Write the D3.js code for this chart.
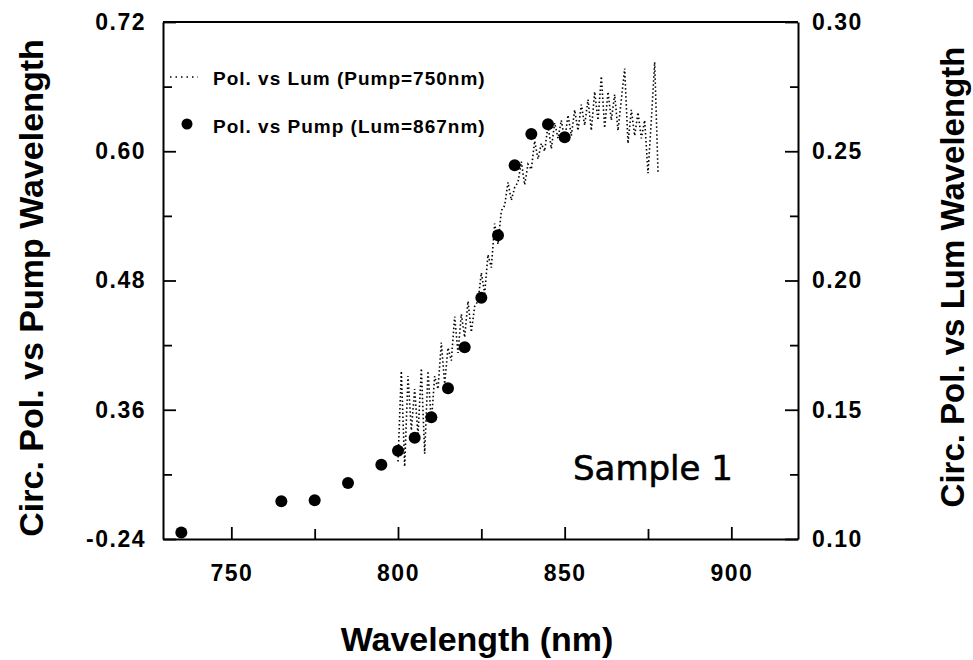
<!DOCTYPE html>
<html>
<head>
<meta charset="utf-8">
<script src="https://cdn.jsdelivr.net/npm/d3@7"></script>
<style>
  body { margin: 0; background: #fff; }
  svg { display: block; }
</style>
</head>
<body>
<div id="chart"></div>
<script>
const WIDTH = 973;
const HEIGHT = 660;
const LEFT = 163;
const RIGHT = 798;
const TOP = 22;
const BOTTOM = 539;

const FONT = "'Liberation Sans', Arial, sans-serif";

// pump scan: circ. pol. vs pump wavelength (lum = 867nm), left axis
const pumpWavelength = [735, 765, 775, 785, 795, 800, 805, 810, 815, 820, 825, 830, 835, 840, 845, 850];
const pumpPolarization = [0.246, 0.275, 0.276, 0.292, 0.309, 0.322, 0.334, 0.353, 0.380, 0.418, 0.464, 0.522, 0.587, 0.616, 0.625, 0.613];

// luminescence scan: circ. pol. vs lum wavelength (pump = 750nm), right axis
const lumWavelength = [
  800, 801, 802, 803, 804, 805, 806, 807, 808, 809,
  810, 811, 812, 813, 814, 815, 816, 817, 818, 819,
  820, 821, 822, 823, 824, 825, 826, 827, 828, 829,
  830, 831, 832, 833, 834, 835, 836, 837, 838, 839,
  840, 841, 842, 843, 844, 845, 846, 847, 848, 849,
  850, 851, 852, 853, 854, 855, 856, 857, 858, 859,
  860, 861, 862, 863, 864, 865, 866, 867, 868, 869,
  870, 871, 872, 873, 874, 875, 876, 877, 878
];
const lumPolarization = [
  0.130, 0.165, 0.128, 0.163, 0.142, 0.158, 0.140, 0.166, 0.133, 0.165,
  0.145, 0.163, 0.158, 0.176, 0.160, 0.174, 0.169, 0.186, 0.172, 0.187,
  0.178, 0.192, 0.180, 0.190, 0.192, 0.203, 0.195, 0.210, 0.205, 0.222,
  0.214, 0.227, 0.229, 0.238, 0.231, 0.236, 0.238, 0.246, 0.237, 0.245,
  0.243, 0.254, 0.247, 0.253, 0.250, 0.260, 0.251, 0.261, 0.255, 0.262,
  0.254, 0.264, 0.256, 0.266, 0.258, 0.268, 0.260, 0.270, 0.258, 0.273,
  0.262, 0.279, 0.259, 0.273, 0.262, 0.272, 0.258, 0.270, 0.282, 0.253,
  0.266, 0.256, 0.265, 0.255, 0.262, 0.2415, 0.262, 0.2845, 0.242
];

const xTicks = [750, 800, 850, 900];
const xMinorTicks = [775, 825, 875];
const leftTicks = [0.24, 0.36, 0.48, 0.60, 0.72];
const leftMinorTicks = [0.30, 0.42, 0.54, 0.66];
const rightTicks = [0.10, 0.15, 0.20, 0.25, 0.30];
const rightMinorTicks = [0.125, 0.175, 0.225, 0.275];

const legendLabels = ["Pol. vs Lum (Pump=750nm)", "Pol. vs Pump (Lum=867nm)"];

const svg = d3.select("#chart")
  .append("svg")
  .attr("width", WIDTH)
  .attr("height", HEIGHT);

const x = d3.scaleLinear().domain([729.5, 920]).range([LEFT, RIGHT]);
const yLeft = d3.scaleLinear().domain([0.24, 0.72]).range([BOTTOM, TOP]);
const yRight = d3.scaleLinear().domain([0.10, 0.30]).range([BOTTOM, TOP]);

function styleAxis(g) {
  g.select(".domain").attr("stroke", "#000").attr("stroke-width", 2);
  g.selectAll(".tick line").attr("stroke", "#000").attr("stroke-width", 1.8);
  g.selectAll(".tick text")
    .attr("fill", "#000")
    .style("font-family", FONT)
    .style("font-weight", "bold")
    .style("font-size", "23px")
    .style("letter-spacing", "1.5px");
}

// bottom axis
svg.append("g")
  .attr("transform", `translate(0,${BOTTOM})`)
  .call(d3.axisBottom(x).tickValues(xTicks).tickFormat(d3.format("d"))
    .tickSizeInner(-12).tickSizeOuter(0).tickPadding(26))
  .call(styleAxis);
svg.append("g")
  .attr("transform", `translate(0,${BOTTOM})`)
  .call(d3.axisBottom(x).tickValues(xMinorTicks).tickFormat("").tickSizeInner(-10).tickSizeOuter(0))
  .call(g => g.select(".domain").remove())
  .call(styleAxis);

// left axis
svg.append("g")
  .attr("transform", `translate(${LEFT},0)`)
  .call(d3.axisLeft(yLeft).tickValues(leftTicks)
    .tickFormat(d => d === 0.24 ? "-0.24" : d3.format(".2f")(d))
    .tickSizeInner(-13).tickSizeOuter(0).tickPadding(17))
  .call(styleAxis);
svg.append("g")
  .attr("transform", `translate(${LEFT},0)`)
  .call(d3.axisLeft(yLeft).tickValues(leftMinorTicks).tickFormat("").tickSizeInner(-9).tickSizeOuter(0))
  .call(g => g.select(".domain").remove())
  .call(styleAxis);

// right axis
svg.append("g")
  .attr("transform", `translate(${RIGHT},0)`)
  .call(d3.axisRight(yRight).tickValues(rightTicks).tickFormat(d3.format(".2f"))
    .tickSizeInner(-13).tickSizeOuter(0).tickPadding(14))
  .call(styleAxis);
svg.append("g")
  .attr("transform", `translate(${RIGHT},0)`)
  .call(d3.axisRight(yRight).tickValues(rightMinorTicks).tickFormat("").tickSizeInner(-8).tickSizeOuter(0))
  .call(g => g.select(".domain").remove())
  .call(styleAxis);

// top frame line
svg.append("line")
  .attr("x1", LEFT).attr("x2", RIGHT)
  .attr("y1", TOP).attr("y2", TOP)
  .attr("stroke", "#000")
  .attr("stroke-width", 2);

// luminescence curve, dotted
const lumLine = d3.line()
  .x((d, i) => x(lumWavelength[i]))
  .y(d => yRight(d));

svg.append("path")
  .datum(lumPolarization)
  .attr("d", lumLine)
  .attr("fill", "none")
  .attr("stroke", "#000")
  .attr("stroke-width", 1.6)
  .attr("stroke-dasharray", "1.5,2.5");

// pump points
svg.selectAll("circle.pump")
  .data(pumpPolarization)
  .enter()
  .append("circle")
  .attr("class", "pump")
  .attr("cx", (d, i) => x(pumpWavelength[i]))
  .attr("cy", d => yLeft(d))
  .attr("r", 6)
  .attr("fill", "#000");

// legend
svg.append("line")
  .attr("x1", 170).attr("x2", 198)
  .attr("y1", 77).attr("y2", 77)
  .attr("stroke", "#000")
  .attr("stroke-width", 1.4)
  .attr("stroke-dasharray", "1.5,4");
svg.append("circle")
  .attr("cx", 187).attr("cy", 124)
  .attr("r", 5.5)
  .attr("fill", "#000");
svg.selectAll("text.legend")
  .data(legendLabels)
  .enter()
  .append("text")
  .attr("class", "legend")
  .attr("x", 213)
  .attr("y", (d, i) => 85 + i * 48)
  .style("font-family", FONT)
  .style("font-weight", "bold")
  .style("font-size", "19px")
  .style("letter-spacing", "1px")
  .text(d => d);

// sample label
svg.append("text")
  .attr("x", 573)
  .attr("y", 480)
  .style("font-family", "'DejaVu Sans', sans-serif")
  .style("font-size", "34px")
  .attr("stroke", "#000")
  .attr("stroke-width", 0.6)
  .text("Sample 1");

// axis titles
const titleStyle = t => t
  .attr("text-anchor", "middle")
  .style("font-family", FONT)
  .style("font-weight", "bold")
  .style("font-size", "34px");

svg.append("text")
  .attr("x", 477)
  .attr("y", 651)
  .call(titleStyle)
  .text("Wavelength (nm)");

svg.append("text")
  .attr("transform", "translate(43,288) rotate(-90)")
  .call(titleStyle)
  .text("Circ. Pol. vs Pump Wavelength");

svg.append("text")
  .attr("transform", "translate(964,277) rotate(-90)")
  .call(titleStyle)
  .style("font-size", "33px")
  .text("Circ. Pol. vs Lum Wavelength");
</script>
</body>
</html>
